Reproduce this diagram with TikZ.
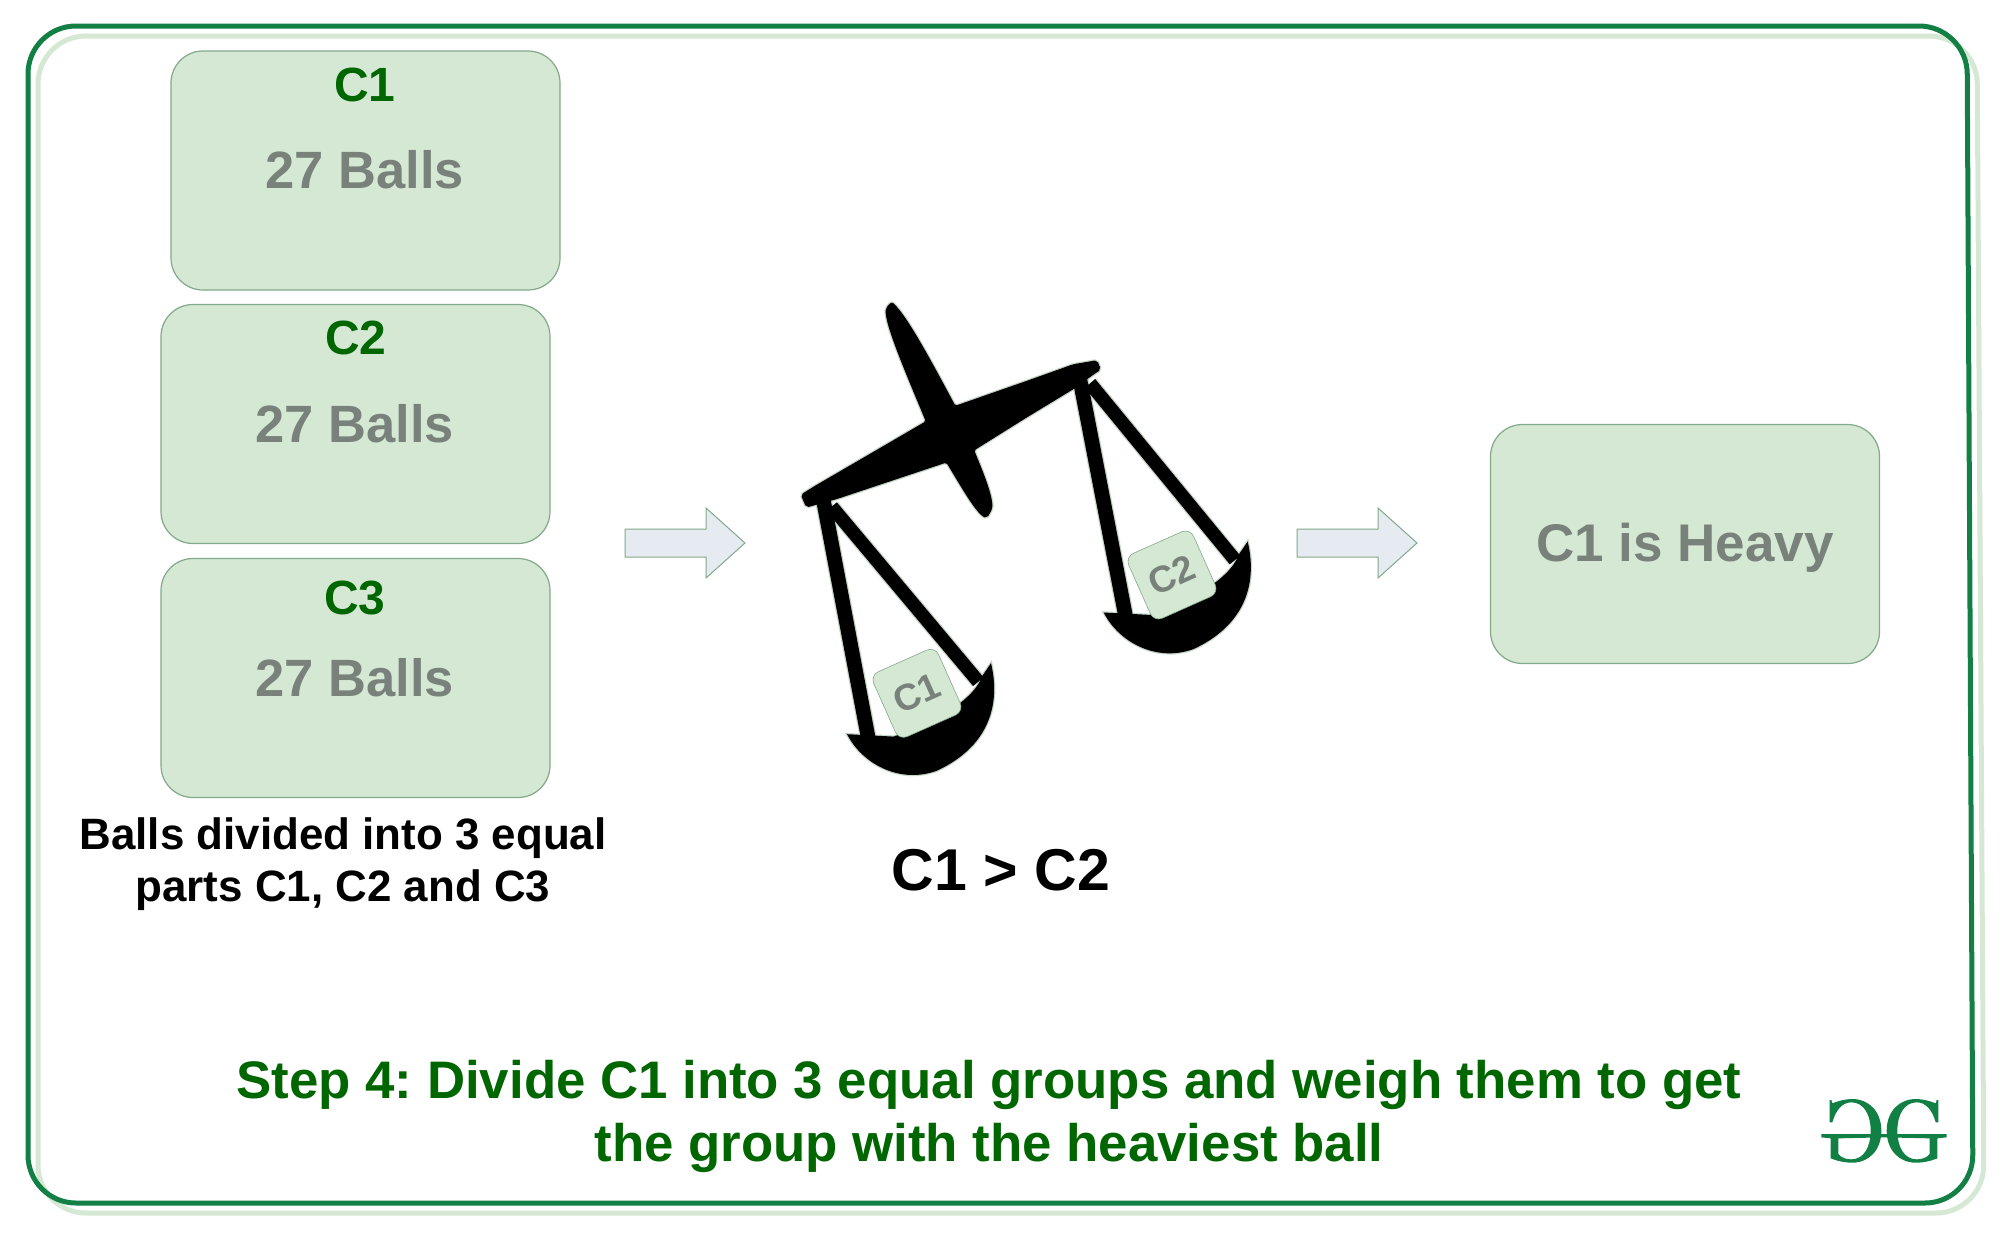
\documentclass[tikz,border=0pt]{standalone}
\usepackage{fontspec}
\setmainfont{Liberation Sans}
\usepackage{xcolor}
\usepackage{tikz}
\definecolor{frameDark}{HTML}{128044}
\definecolor{boxFill}{HTML}{D5E8D4}
\definecolor{boxLine}{HTML}{82A98A}
\definecolor{arrowFill}{HTML}{E6EBF1}
\definecolor{textGreen}{HTML}{006600}
\definecolor{textGray}{HTML}{78827A}
\definecolor{halo}{HTML}{C5D9C8}
\frenchspacing
\tikzset{
    every node/.style={font=\bfseries, inner sep=0},
    groupbox/.style={draw=boxLine, fill=boxFill, line width=1.2pt, rounded corners=32pt, minimum width=389pt, minimum height=239pt},
    minibox/.style={draw=boxLine, fill=boxFill, line width=0.6pt, rounded corners=9pt, minimum size=71pt, rotate=24, text=textGray, font=\bfseries\fontsize{37}{44}\selectfont},
    blockarrow/.style={draw=boxLine, fill=arrowFill, line width=1pt},
    grouphead/.style={textGreen, font=\bfseries\fontsize{48}{56}\selectfont},
    groupcount/.style={textGray, font=\bfseries\fontsize{52.5}{62}\selectfont},
    note/.style={align=center, font=\bfseries\fontsize{43.9}{52}\selectfont},
    steptext/.style={textGreen, align=center, font=\bfseries\fontsize{52.8}{63}\selectfont}
}
\begin{document}
\begin{tikzpicture}[x=1pt, y=-1pt]
    \useasboundingbox (0, 0) rectangle (2001, 1232);
    \fill [white] (0, 0) rectangle (2001, 1232);

    % frame
    \draw [boxFill, line width=5pt, rounded corners=48pt] (38, 36) -- (1977, 36) -- (1984, 1213) -- (38, 1213) -- cycle;
    \draw [frameDark, line width=5pt, rounded corners=48pt] (28, 26) -- (1967, 26) -- (1973, 1203) -- (28, 1203) -- cycle;

    % the three groups
    \node [groupbox] (boxa) at (365.5, 170.5) {};
    \node [groupbox] (boxb) at (355.5, 424) {};
    \node [groupbox] (boxc) at (355.5, 678) {};
    \node [grouphead] (heada) at (365, 85) {C1};
    \node [groupcount] (counta) at (365, 170) {27 Balls};
    \node [grouphead] (headb) at (356, 338) {C2};
    \node [groupcount] (countb) at (355, 424) {27 Balls};
    \node [grouphead] (headc) at (355, 598) {C3};
    \node [groupcount] (countc) at (355, 678) {27 Balls};
    \node [note] (groupnote) at (343, 864) {Balls divided into 3 equal\\parts C1, C2 and C3};

    % block arrows
    \foreach \dx in {0, 672} {
        \draw [blockarrow, xshift=\dx] (625, 529) -- (706, 529) -- (706, 508) -- (745, 543)
            -- (706, 578) -- (706, 557) -- (625, 557) -- cycle;
    }

    % balance, in the units of a 3x crop: first its soft edge, then the black
    \begin{scope}[shift={(760, 280)}, scale=1/3]
        \foreach \ink/\extra in {halo/4, black/1.5} {
            \draw [\ink, line width=\extra pt + 13pt] (190, 660) -- (325, 1375);
            \draw [\ink, line width=\extra pt + 12pt] (215, 680) -- (655, 1205);
            \draw [\ink, line width=\extra pt + 13pt] (960, 300) -- (1097, 1010);
            \draw [\ink, line width=\extra pt + 12pt] (990, 310) -- (1425, 840);
            \filldraw [\ink, line width=\extra pt, rounded corners=2pt] (395, 68) .. controls (440, 110) and (510, 240) .. (585, 380)
                -- (800, 305) -- (940, 255) -- (1010, 243) -- (1020, 268) -- (995, 285) -- (940, 325)
                -- (800, 410) -- (640, 510) .. controls (660, 560) and (695, 640) .. (695, 685)
                -- (680, 712) .. controls (650, 700) and (600, 610) .. (560, 545)
                -- (230, 655) -- (140, 680) -- (125, 645) -- (165, 620) -- (500, 425)
                .. controls (440, 280) and (375, 130) .. (380, 85) -- cycle;
            \foreach \dx/\dy in {0/0, 770/-365} {
                \filldraw [\ink, line width=\extra pt, shift={(\dx, \dy)}] (265, 1365) -- (400, 1372)
                    .. controls (500, 1340) and (640, 1270) .. (668, 1190) -- (692, 1155)
                    .. controls (720, 1280) and (680, 1400) .. (530, 1470)
                    .. controls (420, 1510) and (310, 1450) .. (265, 1365) -- cycle;
            }
        }
        \node [minibox] (miniboxa) at (471, 1240) {C1};
        \node [minibox] (miniboxb) at (1236, 885) {C2};
    \end{scope}

    \node [font=\bfseries\fontsize{59}{70}\selectfont] (verdict) at (1001, 870) {C1 > C2};

    % result
    \node [groupbox] (boxresult) at (1685, 544) {};
    \node [textGray, font=\bfseries\fontsize{53}{62}\selectfont] (result) at (1685, 548) {C1 is Heavy};

    \node [steptext] (step) at (989, 1116) {Step 4: Divide C1 into 3 equal groups and weigh them to get\\the group with the heaviest ball};

    % logo, drawn about its axis
    \begin{scope}[shift={(1884, 1060)}, scale=1/3]
        \foreach \sx in {1, -1} {
            \fill [frameDark, xscale=\sx] (0, 222) -- (188, 222) -- (188, 232) -- (160, 235) -- (160, 295)
                .. controls (140, 303) and (120, 308) .. (95, 308)
                .. controls (45, 308) and (8, 270) .. (8, 212)
                .. controls (8, 155) and (45, 117) .. (95, 117)
                .. controls (115, 117) and (135, 122) .. (155, 130) -- (158, 120) -- (163, 120) -- (163, 187) -- (155, 187)
                .. controls (145, 150) and (125, 127) .. (98, 127)
                .. controls (60, 127) and (40, 165) .. (40, 212)
                .. controls (40, 260) and (60, 298) .. (98, 298)
                .. controls (115, 298) and (130, 292) .. (137, 282) -- (137, 235) -- (0, 232) -- cycle;
        }
    \end{scope}
\end{tikzpicture}
\end{document}
